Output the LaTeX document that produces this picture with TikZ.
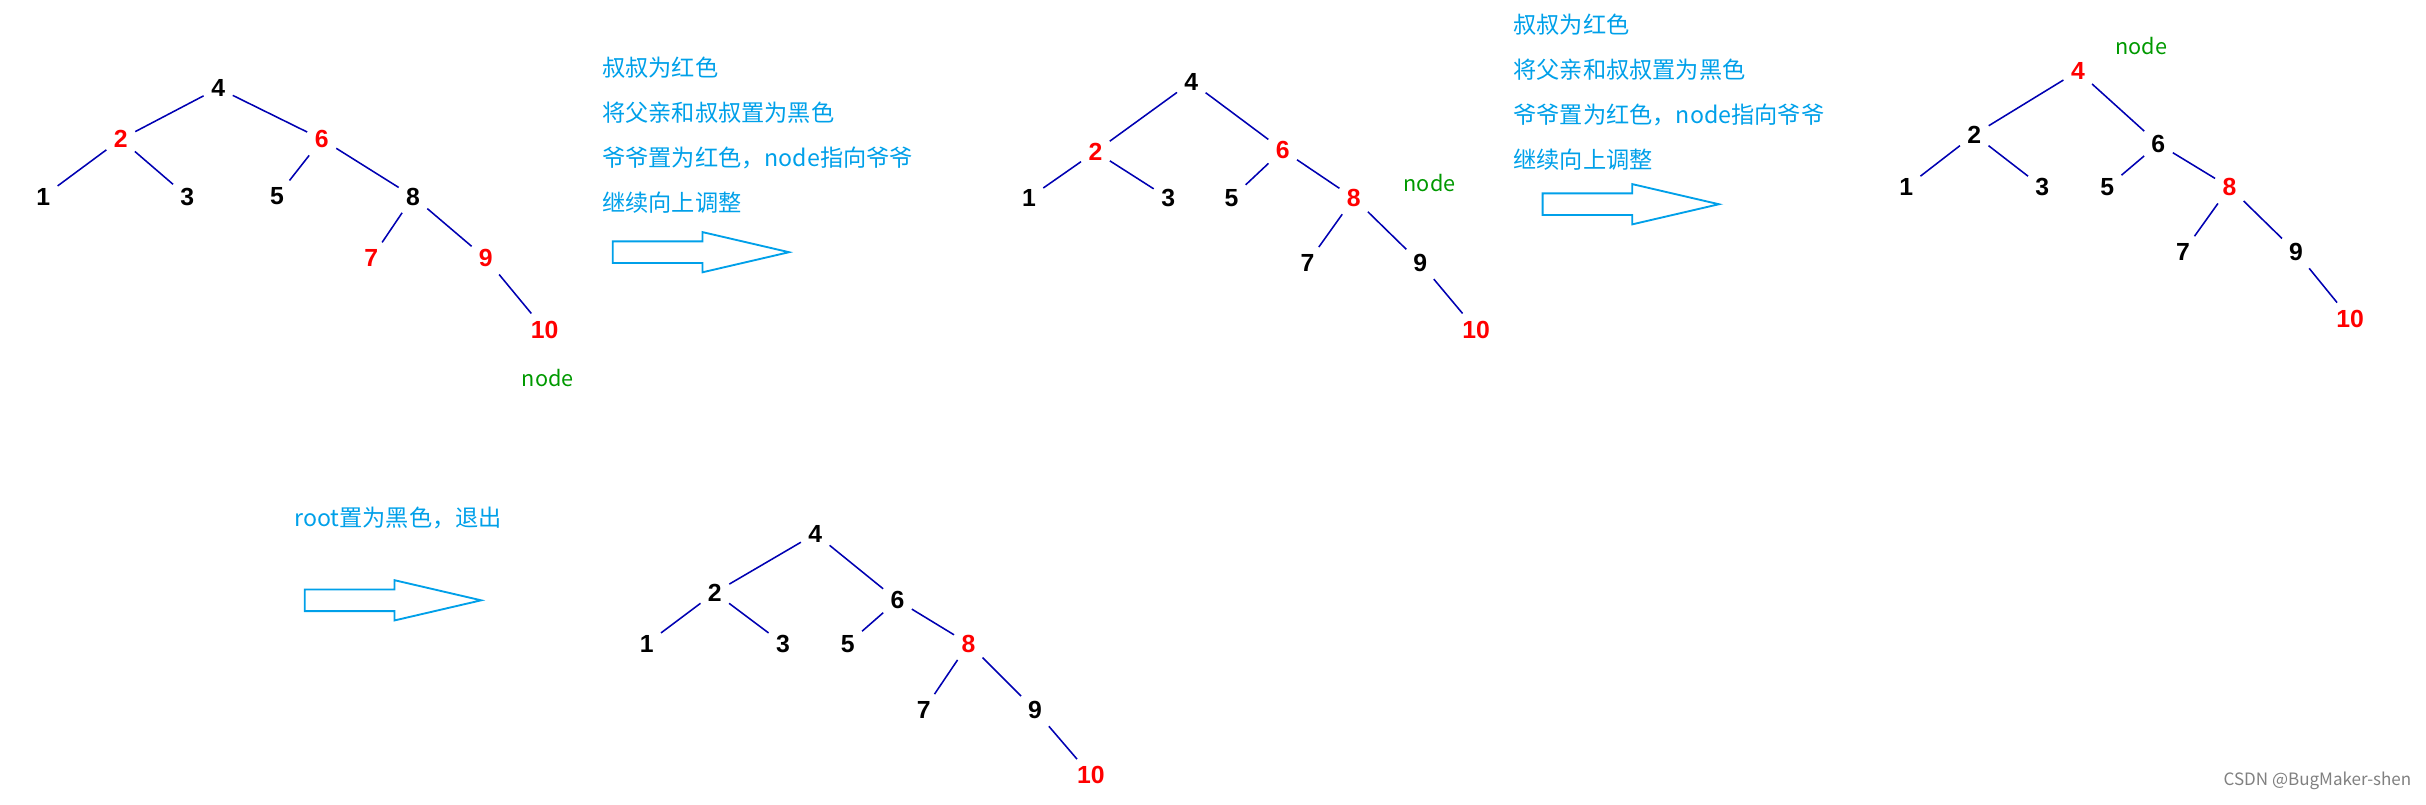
\documentclass[tikz,border=0pt]{standalone}
\usepackage{fontspec}
\setmainfont{Noto Sans CJK SC}
\newfontfamily\numfont{Liberation Sans}
\begin{document}
\begin{tikzpicture}[x=1pt,y=-1pt,
  n/.style={font=\numfont\bfseries\fontsize{16}{16}\selectfont,inner sep=3pt,text=black},
  r/.style={n,text=red},
  e/.style={draw=blue!70!black,line width=1pt,shorten <=2pt,shorten >=2pt},
  lbl/.style={font=\fontsize{14}{14}\selectfont,text=green!60!black},
  txt/.style={font=\fontsize{15}{15}\selectfont,text={rgb,255:red,0;green,160;blue,233},anchor=west,inner sep=0pt},
  blk/.style={draw={rgb,255:red,0;green,160;blue,233},line width=1.2pt,fill=white}]
\useasboundingbox (0,0) rectangle (1568,520);
\newcommand\blockarrow[2]{\draw[blk] (#1,#2-7) -- (#1+58,#2-7) -- (#1+58,#2-13) -- (#1+114,#2) -- (#1+58,#2+13) -- (#1+58,#2+7) -- (#1,#2+7) -- cycle;}
\newcommand\tree[2]{}
% tree 1
\node[n] (a4) at (141,57) {4};
\node[r] (a2) at (78,90) {2};
\node[r] (a6) at (208,90) {6};
\node[n] (a1) at (28,127) {1};
\node[n] (a3) at (121,127) {3};
\node[n] (a5) at (179,127) {5};
\node[n] (a8) at (267,127) {8};
\node[r] (a7) at (240,167) {7};
\node[r] (a9) at (314,167) {9};
\node[r] (a10) at (352,213) {10};
\node[lbl] (al) at (354,244) {node};
\foreach \u/\v in {a4/a2,a4/a6,a2/a1,a2/a3,a6/a5,a6/a8,a8/a7,a8/a9,a9/a10} \draw[e] (\u)--(\v);
\node[txt] (t1) at (389,44) {叔叔为红色};
\node[txt] (t2) at (389,73) {将父亲和叔叔置为黑色};
\node[txt] (t3) at (389,102) {爷爷置为红色，node指向爷爷};
\node[txt] (t4) at (389,131) {继续向上调整};
\blockarrow{396}{163}
% tree 2
\node[n] (b4) at (770,53) {4};
\node[r] (b2) at (708,98) {2};
\node[r] (b6) at (829,97) {6};
\node[n] (b1) at (665,128) {1};
\node[n] (b3) at (755,128) {3};
\node[n] (b5) at (796,128) {5};
\node[r] (b8) at (875,128) {8};
\node[n] (b7) at (845,170) {7};
\node[n] (b9) at (918,170) {9};
\node[r] (b10) at (954,213) {10};
\node[lbl] (bl) at (924,118) {node};
\foreach \u/\v in {b4/b2,b4/b6,b2/b1,b2/b3,b6/b5,b6/b8,b8/b7,b8/b9,b9/b10} \draw[e] (\u)--(\v);
\node[txt] (s1) at (978,16) {叔叔为红色};
\node[txt] (s2) at (978,45) {将父亲和叔叔置为黑色};
\node[txt] (s3) at (978,74) {爷爷置为红色，node指向爷爷};
\node[txt] (s4) at (978,103) {继续向上调整};
\blockarrow{997}{132}
% tree 3
\node[r] (c4) at (1343,46) {4};
\node[lbl] (cl) at (1384,30) {node};
\node[n] (c2) at (1276,87) {2};
\node[n] (c6) at (1395,93) {6};
\node[n] (c1) at (1232,121) {1};
\node[n] (c3) at (1320,121) {3};
\node[n] (c5) at (1362,121) {5};
\node[r] (c8) at (1441,121) {8};
\node[n] (c7) at (1411,163) {7};
\node[n] (c9) at (1484,163) {9};
\node[r] (c10) at (1519,206) {10};
\foreach \u/\v in {c4/c2,c4/c6,c2/c1,c2/c3,c6/c5,c6/c8,c8/c7,c8/c9,c9/c10} \draw[e] (\u)--(\v);
% tree 4
\node[txt] (u1) at (190,335) {root置为黑色，退出};
\blockarrow{197}{388}
\node[n] (d4) at (527,345) {4};
\node[n] (d2) at (462,383) {2};
\node[n] (d6) at (580,388) {6};
\node[n] (d1) at (418,416) {1};
\node[n] (d3) at (506,416) {3};
\node[n] (d5) at (548,416) {5};
\node[r] (d8) at (626,416) {8};
\node[n] (d7) at (597,459) {7};
\node[n] (d9) at (669,459) {9};
\node[r] (d10) at (705,501) {10};
\foreach \u/\v in {d4/d2,d4/d6,d2/d1,d2/d3,d6/d5,d6/d8,d8/d7,d8/d9,d9/d10} \draw[e] (\u)--(\v);
\node[font=\fontsize{11}{11}\selectfont,text=gray,anchor=east] (wm) at (1562,505) {CSDN @BugMaker-shen};
\end{tikzpicture}
\end{document}
